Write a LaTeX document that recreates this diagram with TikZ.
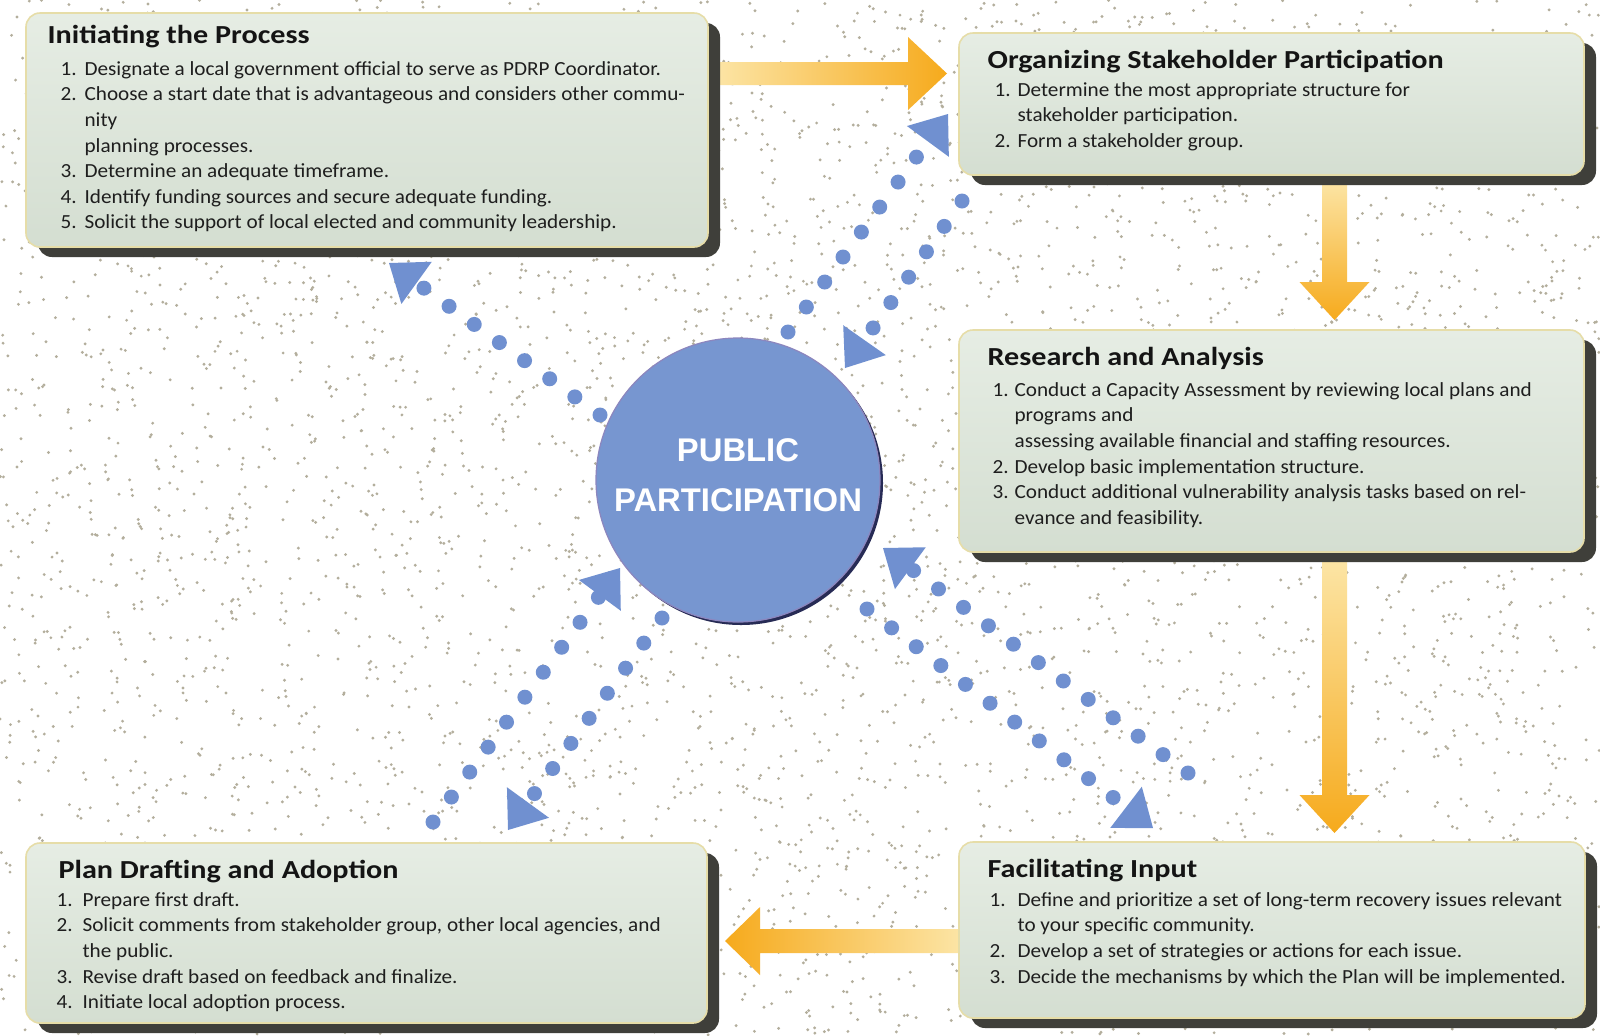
\documentclass[tikz,border=0pt]{standalone}
\usepackage{fontspec}
\setmainfont{Carlito}
\newfontfamily\headfont[FakeStretch=1.16]{Carlito}
\newfontfamily\bodyfont[FakeStretch=1.06]{Carlito}
\newfontfamily\ppfont{Liberation Sans}
\usetikzlibrary{arrows.meta,calc,shadows}
\definecolor{boxtop}{HTML}{E6EDE4}
\definecolor{boxbottom}{HTML}{D4DED1}
\definecolor{boxedge}{HTML}{E6DDA8}
\definecolor{boxshade}{HTML}{3F3F3A}
\definecolor{titleink}{HTML}{141414}
\definecolor{bodyink}{HTML}{1E1E1E}
\definecolor{flowlight}{HTML}{FCE6A8}
\definecolor{flowdark}{HTML}{F6AA1C}
\definecolor{dotblue}{HTML}{7090D0}
\definecolor{ppblue}{HTML}{7796D0}
\definecolor{pprim}{HTML}{272B55}
\definecolor{ppedge}{HTML}{8C86BE}
\definecolor{speck}{HTML}{B3AE9C}
\pgfdeclareradialshading{ppball}{\pgfpoint{0bp}{0bp}}{color(0bp)=(ppblue); color(38bp)=(ppblue); color(47bp)=(ppblue!82!black); color(50bp)=(pprim)}
\newlength{\numw}
\newcommand{\nr}[1]{\makebox[\numw][l]{#1}}
\newcommand{\ind}{\hspace*{\numw}}
\newcommand{\steps}[2]{\parbox[t]{#1}{\raggedright #2}}
\tikzset{
  stagebox/.style={rectangle, rounded corners=7pt, inner sep=0pt, draw=boxedge, line width=0.8pt,
    top color=boxtop, bottom color=boxbottom,
    drop shadow={shadow xshift=6pt, shadow yshift=-5pt, fill=boxshade, opacity=1}},
  stagetitle/.style={anchor=base west, inner sep=0pt, text=titleink, font=\headfont\bfseries\fontsize{13}{15}\selectfont},
  stagetext/.style={anchor=base west, inner sep=0pt, text=bodyink, font=\bodyfont\fontsize{10}{12.8}\selectfont},
  ppdisc/.style={circle, minimum size=142pt, inner sep=0pt, shading=ppball, draw=ppedge, line width=0.6pt,
    drop shadow={shadow xshift=1.5pt, shadow yshift=-1.5pt, fill=pprim, opacity=1}},
  pptext/.style={inner sep=0pt, align=center, text=white, font=\ppfont\bfseries\fontsize{16.4}{25}\selectfont},
  dotflow/.style={draw=dotblue, line width=7.5pt, line cap=round, dash pattern=on 0pt off 15.5pt,
    -{Triangle[length=17pt, width=26pt, line width=0pt]}},
  flowright/.style={left color=flowlight, right color=flowdark},
  flowleft/.style={left color=flowdark, right color=flowlight},
  flowdown/.style={top color=flowlight, bottom color=flowdark}
}
\begin{document}
\begin{tikzpicture}[x=0.5pt, y=-0.5pt]
\useasboundingbox (0,0) rectangle (1600,1035);
\fill[white] (0,0) rectangle (1600,1035);
\pgfmathsetseed{2718}
\foreach \k in {1,...,5200} \fill[speck] (rnd*1600,rnd*1035) circle (0.8pt);

\coordinate (a1s) at (712,73.5);
\coordinate (a1e) at (947,73.5);
\coordinate (a2s) at (1334.5,178);
\coordinate (a2e) at (1334.5,320);
\coordinate (a3s) at (1334.5,555);
\coordinate (a3e) at (1334.5,833);
\coordinate (a4s) at (965,941);
\coordinate (a4e) at (725,941);
\shade[flowright] (a1s) ++(0,-11.5) -- ++(196,0) -- ++(0,-25) -- (a1e) -- ++(-39,36.5) -- ++(0,-25) -- ++(-196,0) -- cycle;
\shade[flowdown] (a2s) ++(-12.5,0) -- ++(0,104) -- ++(-22.5,0) -- (a2e) -- ++(35,-38) -- ++(-22.5,0) -- ++(0,-104) -- cycle;
\shade[flowdown] (a3s) ++(-12.5,0) -- ++(0,240) -- ++(-22.5,0) -- (a3e) -- ++(35,-38) -- ++(-22.5,0) -- ++(0,-240) -- cycle;
\shade[flowleft] (a4s) ++(0,-12) -- ++(-205,0) -- ++(0,-22) -- (a4e) -- ++(35,34) -- ++(0,-22) -- ++(205,0) -- cycle;

\node[stagebox, minimum width=341pt, minimum height=117pt] (init) at (367,130) {};
\node[stagebox, minimum width=312.5pt, minimum height=71pt] (org) at (1271.5,104) {};
\node[stagebox, minimum width=312.5pt, minimum height=111pt] (res) at (1271.5,441) {};
\node[stagebox, minimum width=340.5pt, minimum height=90pt] (plan) at (366.5,933) {};
\node[stagebox, minimum width=313pt, minimum height=88pt] (facil) at (1272,930) {};

\node[stagetitle] (initT) at ($(init.north west)+(22,31)$) {Initiating the Process};
\node[stagetitle] (orgT) at ($(org.north west)+(29,36)$) {Organizing Stakeholder Participation};
\node[stagetitle] (resT) at ($(res.north west)+(29,36)$) {Research and Analysis};
\node[stagetitle] (planT) at ($(plan.north west)+(33,36)$) {Plan Drafting and Adoption};
\node[stagetitle] (facilT) at ($(facil.north west)+(29,36)$) {Facilitating Input};

\node[stagetext] (initL) at ($(init.north west)+(35,63)$) {\setlength{\numw}{12pt}\steps{330pt}{%
\nr{1.}Designate a local government official to serve as PDRP Coordinator.\\
\nr{2.}Choose a start date that is advantageous and considers other commu-\\
\ind nity\\
\ind planning processes.\\
\nr{3.}Determine an adequate timeframe.\\
\nr{4.}Identify funding sources and secure adequate funding.\\
\nr{5.}Solicit the support of local elected and community leadership.}};
\node[stagetext] (orgL) at ($(org.north west)+(36,64)$) {\setlength{\numw}{11.5pt}\steps{300pt}{%
\nr{1.}Determine the most appropriate structure for\\
\ind stakeholder participation.\\
\nr{2.}Form a stakeholder group.}};
\node[stagetext] (resL) at ($(res.north west)+(34,67)$) {\setlength{\numw}{11pt}\steps{300pt}{%
\nr{1.}Conduct a Capacity Assessment by reviewing local plans and\\
\ind programs and\\
\ind assessing available financial and staffing resources.\\
\nr{2.}Develop basic implementation structure.\\
\nr{3.}Conduct additional vulnerability analysis tasks based on rel-\\
\ind evance and feasibility.}};
\node[stagetext] (planL) at ($(plan.north west)+(31,64)$) {\setlength{\numw}{13pt}\steps{330pt}{%
\nr{1.}Prepare first draft.\\
\nr{2.}Solicit comments from stakeholder group, other local agencies, and\\
\ind the public.\\
\nr{3.}Revise draft based on feedback and finalize.\\
\nr{4.}Initiate local adoption process.}};
\node[stagetext] (facilL) at ($(facil.north west)+(31,65)$) {\setlength{\numw}{14pt}\steps{300pt}{%
\nr{1.}Define and prioritize a set of long-term recovery issues relevant\\
\ind to your specific community.\\
\nr{2.}Develop a set of strategies or actions for each issue.\\
\nr{3.}Decide the mechanisms by which the Plan will be implemented.}};

\node[ppdisc] (pp) at (738,480) {};
\node[pptext] (ppT) at (738,475) {PUBLIC\\PARTICIPATION};

\coordinate (ppInitS) at (600,415);
\coordinate (ppInitE) at (389,263);
\coordinate (ppOrgS) at (788,332);
\coordinate (ppOrgE) at (948,114);
\coordinate (orgPpS) at (962,201);
\coordinate (orgPpE) at (845,368);
\coordinate (planPpS) at (433,822);
\coordinate (planPpE) at (620,568);
\coordinate (ppPlanS) at (662,618);
\coordinate (ppPlanE) at (508,830);
\coordinate (facilPpS) at (1188,773);
\coordinate (facilPpE) at (883,548);
\coordinate (ppFacilS) at (867,609);
\coordinate (ppFacilE) at (1153,828);
\draw[dotflow] (ppInitS) -- (ppInitE);
\draw[dotflow] (ppOrgS) -- (ppOrgE);
\draw[dotflow] (orgPpS) -- (orgPpE);
\draw[dotflow] (planPpS) -- (planPpE);
\draw[dotflow] (ppPlanS) -- (ppPlanE);
\draw[dotflow] (facilPpS) -- (facilPpE);
\draw[dotflow] (ppFacilS) -- (ppFacilE);
\end{tikzpicture}
\end{document}
